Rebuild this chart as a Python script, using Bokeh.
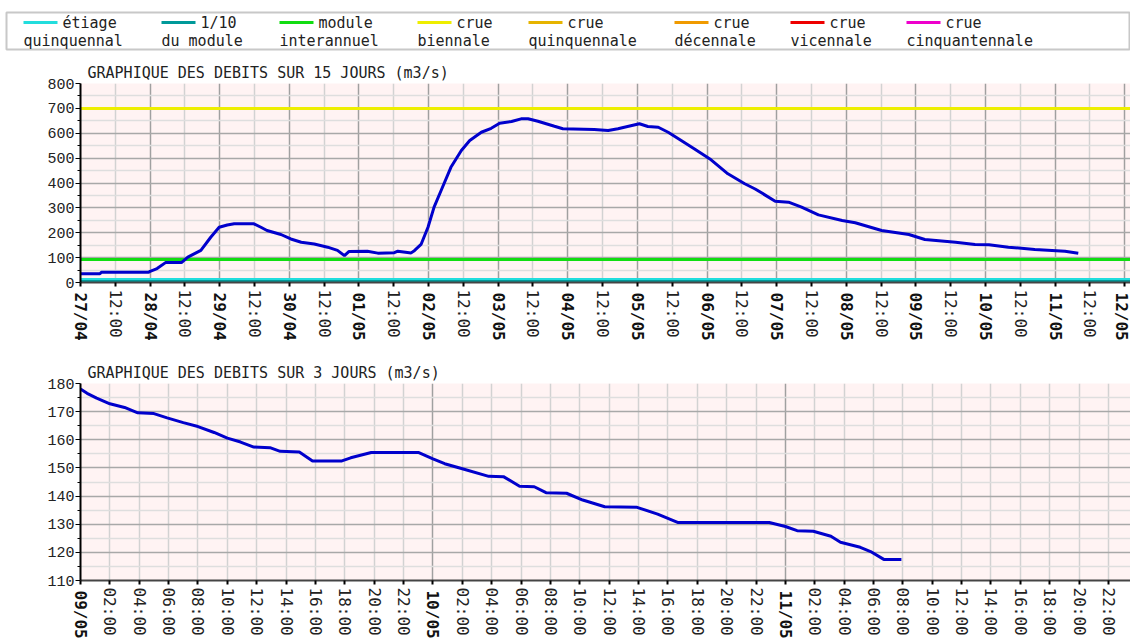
import math
from bokeh.plotting import figure
from bokeh.models import ColumnDataSource, FixedTicker, Range1d, LinearAxis
from bokeh.layouts import column, row
from bokeh.embed import file_html
from bokeh.resources import INLINE
from bokeh.core.properties import value

MONO = "DejaVu Sans Mono"
YFONT = "Liberation Mono"

# ---------------- legend ----------------
legend_line1 = ["étiage", "1/10", "module", "crue", "crue", "crue", "crue", "crue"]
legend_line2 = ["quinquennal", "du module", "interannuel", "biennale",
                "quinquennale", "décennale", "vicennale", "cinquantennale"]
legend_colors = ["#22dddd", "#009999", "#11dd11", "#eeee00",
                 "#e6b400", "#f09a00", "#ee0000", "#ee00cc"]
legend_x = [23, 161, 279, 417, 528, 674, 790, 906]

# ---------------- thresholds (m3/s) ----------------
threshold_names = ["module interannuel", "étiage quinquennal", "1/10 du module", "crue biennale"]
threshold_values = [93, 12, 5, 700]
threshold_colors = ["#11dd11", "#22dddd", "#009999", "#eeee00"]

# ---------------- 15 days ----------------
top_day_labels = ["27/04", "28/04", "29/04", "30/04", "01/05", "02/05", "03/05", "04/05",
                  "05/05", "06/05", "07/05", "08/05", "09/05", "10/05", "11/05", "12/05"]
top_hours = [0, 6.7, 7.2, 23.5, 24, 26.4, 29.3, 34.8, 37, 41.5, 44.9, 47.8, 50.6, 53, 59.8,
             62.2, 64.3, 69.1, 72.5, 76.1, 80.6, 85.2, 88.6, 91, 92.6, 98.9, 102.5, 108.2,
             109.4, 114, 115.2, 117.4, 119.8, 121.9, 124.8, 127.7, 131.3, 134.2, 138.2, 141.6,
             144.5, 148.6, 151.9, 154.3, 157.7, 163.4, 166.3, 177.1, 181.9, 185.3, 188.6, 192.7,
             195.6, 199.2, 202.6, 207.1, 211.7, 217.4, 223.2, 229, 232.6, 239.5, 244.1, 248.6,
             254.4, 262.6, 267.1, 276.2, 285.6, 291.1, 301.7, 308.4, 313.2, 319.9, 329, 339.4, 344]
top_flow = [35, 35, 41, 41, 45, 56, 80, 80, 102, 129, 182, 222, 231, 236, 236,
            222, 209, 193, 175, 162, 155, 142, 129, 108, 125, 126, 118, 120,
            126, 119, 129, 153, 222, 303, 383, 463, 531, 571, 604, 620,
            640, 647, 658, 658, 648, 628, 618, 615, 611, 618, 627, 638,
            627, 624, 604, 571, 537, 493, 437, 397, 376, 327, 323, 303,
            272, 249, 240, 209, 193, 173, 162, 153, 152, 142, 133, 126, 118]

# ---------------- 3 days ----------------
bottom_day_labels = ["09/05", "10/05", "11/05"]
bottom_hours = [0, 0.45, 1.1, 2.0, 3.0, 3.9, 5.0, 5.9, 7.0, 8.0, 9.1, 10.0, 10.9, 11.8, 12.9,
                13.6, 14.9, 15.8, 17.8, 18.4, 19.8, 23.0, 24.0, 24.8, 26.0, 27.8, 28.8, 29.9,
                30.9, 31.7, 33.1, 34.2, 35.7, 37.9, 39.3, 40.7, 46.9, 48.0, 48.8, 49.9, 51.1,
                51.75, 53.1, 53.8, 54.7, 55.9]
bottom_flow = [178, 176.5, 174.8, 172.8, 171.5, 169.6, 169.3, 167.8, 166.1, 164.7, 162.6, 160.6,
               159.2, 157.4, 157.2, 155.9, 155.7, 152.5, 152.5, 153.6, 155.5, 155.5, 153.2, 151.5,
               149.7, 147.0, 146.9, 143.5, 143.3, 141.2, 141.0, 138.6, 136.2, 136.0, 133.6, 130.6,
               130.6, 129.2, 127.7, 127.5, 125.7, 123.6, 121.8, 120.3, 117.5, 117.5]

W = 1130
XFS = 16  # x tick label font size (px)

# ---------------- legend figure ----------------
leg = figure(width=W, height=52, x_range=Range1d(6, 1130), y_range=Range1d(49, 12),
             x_axis_type=None, y_axis_type=None,
             output_backend="svg", toolbar_location=None,
             min_border_left=6, min_border_right=0, min_border_top=12, min_border_bottom=3)
leg.grid.visible = False
leg.outline_line_color = "#c8c8c8"
leg.outline_line_width = 2
leg.background_fill_color = "white"
lsrc = ColumnDataSource(dict(
    x0=legend_x, x1=[x + 34 for x in legend_x], xt=[x + 39 for x in legend_x],
    y1=[22] * len(legend_x), y2=[40] * len(legend_x),
    t1=legend_line1, t2=legend_line2, c=legend_colors))
leg.segment(x0="x0", x1="x1", y0="y1", y1="y1", line_color="c", line_width=3, source=lsrc)
leg.text(x="xt", y="y1", text="t1", source=lsrc, text_font=value(MONO), text_font_size="15px",
         text_baseline="middle", text_color="#222222")
leg.text(x="x0", y="y2", text="t2", source=lsrc, text_font=value(MONO), text_font_size="15px",
         text_baseline="middle", text_color="#222222")


def style(p, days, day_labels, minor, minor_labels, yt_major, yt_minor):
    p.background_fill_color = "#fff3f3"
    p.border_fill_color = "white"
    p.outline_line_color = None
    p.title.text_font = MONO
    p.title.text_font_size = "15px"
    p.title.text_font_style = "normal"
    p.title.text_color = "#222222"
    p.title.offset = 7
    p.title.standoff = 3

    # axis A (next to the frame): all ticks, normal-weight hour labels
    ov = {d: "" for d in days}
    ov.update({m: lab for m, lab in zip(minor, minor_labels)})
    ax = p.xaxis[0]
    ax.ticker = FixedTicker(ticks=sorted(days + minor), minor_ticks=[])
    ax.major_label_overrides = ov
    ax.major_label_orientation = "vertical"
    ax.major_label_text_font = MONO
    ax.major_label_text_font_size = "%dpx" % XFS
    ax.major_label_text_color = "#222222"
    ax.major_label_standoff = 3
    ax.major_tick_out = 4
    ax.major_tick_in = 0
    ax.minor_tick_out = 0
    ax.major_tick_line_color = "black"
    ax.major_tick_line_width = 2
    ax.axis_line_color = "#444444"
    ax.axis_line_width = 2

    # axis B: bold day labels, shifted back up into the same band
    bx = LinearAxis(ticker=FixedTicker(ticks=days, minor_ticks=[]),
                    major_label_overrides={d: lab for d, lab in zip(days, day_labels)},
                    major_label_orientation="vertical",
                    major_label_text_font=MONO,
                    major_label_text_font_size="%dpx" % XFS,
                    major_label_text_font_style="bold",
                    major_label_text_color="#111111",
                    major_label_standoff=-round(5 * 0.602 * XFS),
                    major_tick_out=0, major_tick_in=0, minor_tick_out=0, minor_tick_in=0,
                    major_tick_line_color=None, minor_tick_line_color=None,
                    axis_line_color=None)
    p.add_layout(bx, "below")

    p.xgrid.ticker = FixedTicker(ticks=days, minor_ticks=minor)
    p.yaxis.ticker = FixedTicker(ticks=yt_major, minor_ticks=yt_minor)

    p.yaxis.major_label_text_font = YFONT
    p.yaxis.major_label_text_font_size = "15px"
    p.yaxis.major_label_text_color = "#222222"
    p.yaxis.major_label_standoff = 1
    p.yaxis.major_tick_out = 5
    p.yaxis.major_tick_in = 0
    p.yaxis.minor_tick_out = 3
    p.yaxis.minor_tick_in = 0
    p.yaxis.major_tick_line_color = "black"
    p.yaxis.minor_tick_line_color = "black"
    p.yaxis.axis_line_color = "black"
    p.yaxis.axis_line_width = 2

    p.xgrid.grid_line_color = "#a0a0a0"
    p.xgrid.grid_line_width = 1.5
    p.xgrid.minor_grid_line_color = "#d2d2d2"
    p.xgrid.minor_grid_line_width = 1.5
    p.ygrid.grid_line_color = "#a8a8a8"
    p.ygrid.grid_line_width = 1.5
    p.ygrid.minor_grid_line_color = "#dedede"
    p.ygrid.minor_grid_line_width = 1.5


# ---------------- top figure ----------------
top = figure(width=W, height=308, x_range=Range1d(0, 362), y_range=Range1d(0, 800),
             title="GRAPHIQUE DES DEBITS SUR 15 JOURS (m3/s)",
             output_backend="svg", toolbar_location=None,
             min_border_left=80, min_border_right=0, min_border_top=31, min_border_bottom=78)
top_days = [24 * i for i in range(len(top_day_labels))]
top_noons = [24 * i + 12 for i in range(len(top_day_labels) - 1)]
style(top, top_days, top_day_labels, top_noons, ["12:00"] * len(top_noons),
      list(range(0, 801, 100)), list(range(50, 800, 100)))

tsrc = ColumnDataSource(dict(y=threshold_values, c=threshold_colors, name=threshold_names))
top.hspan(y="y", line_color="c", line_width=3, source=tsrc)
top.line(top_hours, top_flow, line_color="#0000cc", line_width=3)

# ---------------- bottom figure ----------------
bot = figure(width=W, height=281, x_range=Range1d(0, 71.5), y_range=Range1d(110, 180),
             title="GRAPHIQUE DES DEBITS SUR 3 JOURS (m3/s)",
             output_backend="svg", toolbar_location=None,
             min_border_left=80, min_border_right=0, min_border_top=20, min_border_bottom=59)
bot_days = [24 * i for i in range(len(bottom_day_labels))]
bot_minor = [h for h in range(2, 72, 2) if h % 24 != 0]
style(bot, bot_days, bottom_day_labels, bot_minor, ["%02d:00" % (h % 24) for h in bot_minor],
      list(range(110, 181, 10)), list(range(115, 180, 10)))
bot.line(bottom_hours, bottom_flow, line_color="#0000cc", line_width=3)

layout = column(row(leg), column(top, bot, spacing=0), spacing=0)
open("out.html", "w").write(file_html(layout, INLINE))
